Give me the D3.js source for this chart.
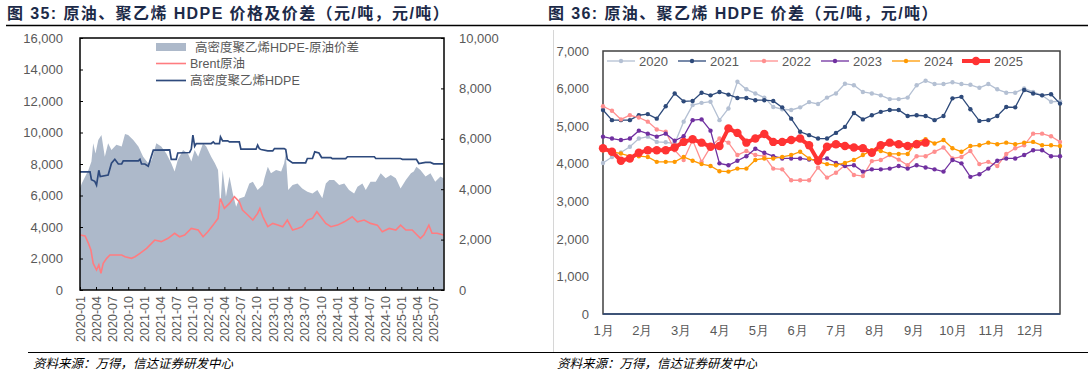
<!DOCTYPE html>
<html><head><meta charset="utf-8">
<script src="https://cdn.jsdelivr.net/npm/d3@7"></script>
<style>
body{margin:0;background:#fff;}
svg{display:block;font-family:"Liberation Sans",Arial,"Noto Sans CJK SC",sans-serif;}
</style></head>
<body><svg id="c" width="1088" height="378"></svg>
<script>
// ---------- Left chart data (元/吨) ----------
const spread = [["2020-01-01",4040],["2020-01-11",4230],["2020-02-18",4760],["2020-03-06",5100],["2020-03-16",5820],["2020-03-29",5420],["2020-04-14",5950],["2020-05-02",6150],["2020-05-21",5290],["2020-06-09",5820],["2020-06-28",5560],["2020-07-26",5760],["2020-08-25",5690],["2020-09-13",6190],["2020-10-01",6150],["2020-10-30",5950],["2020-11-28",5690],["2020-12-25",5290],["2021-01-23",5030],["2021-02-12",5160],["2021-03-10",5820],["2021-04-07",5690],["2021-05-06",5420],["2021-06-03",5030],["2021-06-22",4700],["2021-07-10",5160],["2021-08-09",5560],["2021-09-06",5420],["2021-09-25",5100],["2021-10-14",5560],["2021-11-03",5290],["2021-12-01",5820],["2021-12-19",5690],["2022-01-16",5290],["2022-02-06",5030],["2022-02-24",4760],["2022-03-09",3300],["2022-03-22",4760],["2022-04-10",3700],["2022-04-30",4500],["2022-05-19",3830],["2022-06-07",3300],["2022-06-25",3630],["2022-07-24",3700],["2022-08-21",4230],["2022-09-10",4300],["2022-10-07",3970],["2022-11-06",4170],["2022-11-15",4430],["2022-12-04",4890],["2022-12-22",4630],["2023-01-20",4760],["2023-02-18",4700],["2023-03-07",5030],["2023-03-16",5420],["2023-03-30",3970],["2023-04-24",4170],["2023-05-22",4230],["2023-06-18",4030],["2023-07-17",3900],["2023-08-15",3830],["2023-09-12",3970],["2023-10-10",3640],["2023-10-30",4230],["2023-11-19",4370],["2023-12-16",4370],["2024-01-14",4170],["2024-02-12",4230],["2024-03-10",3970],["2024-04-08",3830],["2024-04-27",4100],["2024-05-25",4230],["2024-06-13",3970],["2024-07-10",4300],["2024-08-09",4300],["2024-09-06",4630],["2024-10-04",4430],["2024-11-02",4560],["2024-12-01",4430],["2024-12-28",4030],["2025-01-27",4370],["2025-02-25",4630],["2025-03-13",4700],["2025-03-28",4890],["2025-04-20",4760],["2025-05-19",4500],["2025-06-16",4630],["2025-07-13",4300],["2025-08-12",4500],["2025-08-29",4430]];

const brent = [["2020-01-02",3490],["2020-01-30",3430],["2020-02-18",2960],["2020-03-03",2540],["2020-03-16",1690],["2020-04-04",1270],["2020-04-17",1590],["2020-04-29",1060],["2020-05-12",1690],["2020-06-01",2010],["2020-06-19",2220],["2020-08-25",2220],["2020-09-13",2110],["2020-10-20",2010],["2020-11-09",2110],["2020-12-07",2330],["2021-01-14",2640],["2021-03-01",3170],["2021-04-07",3070],["2021-05-16",3280],["2021-06-22",3600],["2021-07-20",3380],["2021-08-18",3490],["2021-09-25",3910],["2021-11-03",3810],["2021-12-01",3380],["2021-12-28",3700],["2022-01-27",4120],["2022-02-24",4550],["2022-03-09",5810],["2022-04-01",5180],["2022-04-30",5500],["2022-05-28",5920],["2022-06-25",5600],["2022-07-13",5070],["2022-08-12",4760],["2022-09-10",4440],["2022-10-07",4860],["2022-10-20",5180],["2022-11-06",4650],["2022-12-04",4020],["2023-01-01",4230],["2023-01-30",4120],["2023-02-27",4020],["2023-03-25",4440],["2023-04-24",3810],["2023-05-22",3910],["2023-06-18",4020],["2023-07-17",4440],["2023-08-15",4550],["2023-09-09",4970],["2023-10-01",4650],["2023-10-30",4230],["2023-11-28",4020],["2024-01-04",4120],["2024-02-12",4330],["2024-03-28",4650],["2024-04-27",4330],["2024-06-04",4440],["2024-07-10",4230],["2024-08-18",4120],["2024-09-15",3700],["2024-10-24",3910],["2024-12-01",3810],["2024-12-28",4120],["2025-01-27",3810],["2025-03-04",3810],["2025-04-01",3490],["2025-04-20",3280],["2025-05-09",3490],["2025-06-07",4120],["2025-06-25",3600],["2025-07-24",3600],["2025-08-29",3490]];

const hdpe = [["2020-01-01",7500],["2020-02-27",7500],["2020-03-06",7000],["2020-03-25",6900],["2020-04-04",6660],["2020-04-17",7600],["2020-04-25",7200],["2020-06-09",7300],["2020-06-28",8050],["2020-07-17",8300],["2020-08-06",8000],["2020-08-25",8000],["2020-09-03",8200],["2020-11-28",8200],["2020-12-07",8300],["2020-12-16",8000],["2021-01-04",8000],["2021-01-23",7860],["2021-02-02",8200],["2021-02-21",8880],["2021-05-25",8900],["2021-06-03",8290],["2021-07-01",8290],["2021-07-10",8700],["2021-09-15",8730],["2021-09-25",8950],["2021-10-04",9830],["2021-10-14",9130],["2021-10-23",9300],["2022-01-16",9300],["2022-01-28",9400],["2022-02-06",9300],["2022-03-04",9300],["2022-03-10",9720],["2022-03-22",9470],["2022-04-20",9470],["2022-04-30",9400],["2022-06-25",9400],["2022-07-04",8940],["2022-09-28",8940],["2022-10-07",9200],["2022-10-17",8970],["2022-10-27",8920],["2022-12-04",8830],["2023-01-01",8830],["2023-01-11",8980],["2023-03-07",8980],["2023-03-16",8920],["2023-03-25",8300],["2023-04-24",8070],["2023-07-07",8070],["2023-07-17",8350],["2023-08-15",8350],["2023-08-28",8770],["2023-09-21",8700],["2023-10-06",8410],["2023-11-28",8400],["2023-12-06",8340],["2024-02-20",8340],["2024-03-01",8460],["2024-08-01",8460],["2024-08-09",8350],["2024-12-28",8350],["2025-01-07",8300],["2025-03-28",8300],["2025-04-11",8030],["2025-05-19",8100],["2025-06-16",8100],["2025-07-04",8010],["2025-08-29",8010]];

const leftTicks = [0,2000,4000,6000,8000,10000,12000,14000,16000];
const rightTicks = [0,2000,4000,6000,8000,10000];
const quarterLabels = ["2020-01","2020-04","2020-07","2020-10","2021-01","2021-04","2021-07","2021-10","2022-01","2022-04","2022-07","2022-10","2023-01","2023-04","2023-07","2023-10","2024-01","2024-04","2024-07","2024-10","2025-01","2025-04","2025-07"];
const leftLegend = ["高密度聚乙烯HDPE-原油价差","Brent原油","高密度聚乙烯HDPE"];

// ---------- Right chart data (weekly, 元/吨) ----------
const monthLabels = ["1月","2月","3月","4月","5月","6月","7月","8月","9月","10月","11月","12月"];
const years = ["2020","2021","2022","2023","2024","2025"];
const s2020 = [4020,4180,4300,4450,4670,4720,4580,4570,4540,5120,5560,5620,5650,5160,5470,6180,5980,5870,5760,5510,5450,5430,5500,5640,5590,5760,5870,6130,6090,5910,5870,5820,5720,5720,5760,6090,6210,6120,6120,6170,6120,6100,6020,6120,5980,5890,5890,6000,5910,5820,5650,5660];
const s2021 = [5430,5160,5160,5160,5290,5320,5200,5530,5870,5660,5670,5890,5820,5910,5840,5750,5750,5690,5690,5670,5500,5200,4850,4760,4670,4670,4820,4980,5350,5180,5290,5380,5430,5430,5270,5290,5270,5160,5270,5740,5780,5450,5140,5160,5270,5510,5500,5960,5870,5820,5850,5600];
const s2022 = [5530,5410,5180,5290,5230,5120,4910,4850,4360,4100,4630,4050,4450,4670,4560,4230,4340,4230,4200,3870,3850,3560,3560,3560,3900,3630,3760,3960,3700,3670,4070,4100,4230,4110,3960,4200,4200,4320,4430,4140,4180,4340,3990,4050,3940,4260,4410,4490,4800,4800,4730,4580];
const s2023 = [4720,4670,4630,4670,4880,4800,4720,4800,4610,4730,5160,5180,4880,4010,3960,4080,4200,4400,4290,4200,4140,4140,4140,4110,4110,4140,4020,3940,3960,3790,3850,3850,3870,3940,3870,3960,3900,3850,3790,4100,4010,3650,3720,3870,4080,4140,4140,4230,4360,4360,4200,4200];
const s2024 = [4360,4320,4270,4200,4200,4180,4050,4050,4050,4180,4080,3990,3940,3800,3790,3870,3870,4100,4140,4140,4180,4230,4320,4140,4050,3990,3960,4020,4100,4230,4360,4340,4260,4260,4260,4580,4650,4540,4630,4410,4320,4470,4490,4560,4520,4560,4520,4560,4580,4490,4490,4470];
const s2025 = [4410,4320,4080,4140,4290,4360,4360,4360,4430,4580,4650,4560,4450,4470,4940,4820,4560,4670,4790,4580,4580,4630,4670,4490,4080,4450,4520,4470,4430,4410,4290,4490,4560,4520,4470,4520,4560];
const yearSeries = [s2020,s2021,s2022,s2023,s2024,s2025];
const rightYTicks = [0,1000,2000,3000,4000,5000,6000,7000];

// ---------- Styles ----------
const TXT = "#595959";
const C_AREA = "#adb9ca", C_BRENT = "#ff7c80", C_HDPE = "#2e4a7d";
const yearColors = ["#b4c0d3","#2e4a7a","#ff8f8f","#7030a0","#ff9900","#ff3333"];

const svg = d3.select("#c");
svg.append("rect").attr("width",1088).attr("height",378).attr("fill","#fff");
const parse = d3.timeParse("%Y-%m-%d");
const parseM = d3.timeParse("%Y-%m");

// Titles
function title(x, txt){
  svg.append("text").attr("x",x).attr("y",19).attr("fill","#1c2a48")
    .attr("font-weight","bold").attr("font-size","16px").attr("letter-spacing","1.4px").text(txt);
}
title(7,"图 35:  原油、聚乙烯 HDPE 价格及价差（元/吨，元/吨）");
title(548,"图 36:  原油、聚乙烯 HDPE 价差（元/吨，元/吨）");
svg.append("line").attr("x1",6).attr("x2",1088).attr("y1",25.5).attr("y2",25.5).attr("stroke","#000").attr("stroke-width",1.6);
svg.append("line").attr("x1",28).attr("x2",1088).attr("y1",352.5).attr("y2",352.5).attr("stroke","#000").attr("stroke-width",1);
svg.append("line").attr("x1",553.5).attr("x2",553.5).attr("y1",30).attr("y2",352).attr("stroke","#d6d6d6").attr("stroke-width",1);
svg.append("text").attr("x",33).attr("y",368).attr("font-size","12.5px").attr("font-style","italic").attr("fill","#000").text("资料来源：万得，信达证券研发中心");
svg.append("text").attr("x",557).attr("y",368).attr("font-size","12.5px").attr("font-style","italic").attr("fill","#000").text("资料来源：万得，信达证券研发中心");

// ---------- Left chart ----------
const L = {l:80, r:444, t:38, b:290};
const xL = d3.scaleTime().domain([new Date(2020,0,1), new Date(2025,8,1)]).range([L.l,L.r]);
const yL = d3.scaleLinear().domain([0,16000]).range([L.b,L.t]);
const yR = d3.scaleLinear().domain([0,10000]).range([L.b,L.t]);

const gL = svg.append("g");
gL.append("path").datum(spread)
  .attr("d", d3.area().x(d=>xL(parse(d[0]))).y0(yR(0)).y1(d=>yR(d[1])))
  .attr("fill",C_AREA);
gL.append("path").datum(brent)
  .attr("d", d3.line().x(d=>xL(parse(d[0]))).y(d=>yL(d[1])))
  .attr("fill","none").attr("stroke",C_BRENT).attr("stroke-width",1.6);
gL.append("path").datum(hdpe)
  .attr("d", d3.line().x(d=>xL(parse(d[0]))).y(d=>yL(d[1])))
  .attr("fill","none").attr("stroke",C_HDPE).attr("stroke-width",1.7);

function styleAxis(g){
  g.select(".domain").remove();
  g.selectAll(".tick line").attr("stroke","#000");
  g.selectAll("text").attr("fill",TXT).attr("font-size","13px").attr("font-family",'"Liberation Sans",Arial,sans-serif');
}
const fmt = d3.format(",");
gL.append("g").attr("transform",`translate(${L.l},0)`)
  .call(d3.axisLeft(yL).tickValues(leftTicks).tickSize(-3).tickPadding(17).tickFormat(fmt)).call(styleAxis);
gL.append("g").attr("transform",`translate(${L.r},0)`)
  .call(d3.axisRight(yR).tickValues(rightTicks).tickSize(-3).tickPadding(15).tickFormat(fmt)).call(styleAxis);
const xa = gL.append("g").attr("transform",`translate(0,${L.b})`)
  .call(d3.axisBottom(xL).tickValues(quarterLabels.map(parseM)).tickSize(-3).tickFormat(d3.timeFormat("%Y-%m"))).call(styleAxis);
xa.selectAll("text").attr("transform","rotate(-90)").attr("text-anchor","end")
  .attr("x",-6).attr("y",0).attr("dy","0.35em").attr("font-size","12.5px");
gL.append("rect").attr("x",L.l).attr("y",L.t).attr("width",L.r-L.l).attr("height",L.b-L.t)
  .attr("fill","none").attr("stroke","#000").attr("stroke-width",1.5);

// Left legend
const lg = gL.append("g").attr("font-size","12.5px").attr("fill",TXT);
lg.append("rect").attr("x",156).attr("y",43).attr("width",30).attr("height",8).attr("fill",C_AREA);
lg.append("text").attr("x",195).attr("y",51.5).attr("fill",TXT).text(leftLegend[0]);
lg.append("line").attr("x1",156).attr("x2",186).attr("y1",63.5).attr("y2",63.5).attr("stroke",C_BRENT).attr("stroke-width",1.6);
lg.append("text").attr("x",190).attr("y",68).attr("fill",TXT).text(leftLegend[1]);
lg.append("line").attr("x1",156).attr("x2",186).attr("y1",80.5).attr("y2",80.5).attr("stroke",C_HDPE).attr("stroke-width",1.7);
lg.append("text").attr("x",190).attr("y",85).attr("fill",TXT).text(leftLegend[2]);

// ---------- Right chart ----------
const R = {l:603, r:1060, t:51, b:314};
const xW = d3.scaleLinear().domain([0,51]).range([R.l,R.r]);
const yW = d3.scaleLinear().domain([0,7000]).range([R.b,R.t]);
const gR = svg.append("g");

gR.append("g").attr("transform",`translate(${R.l},0)`)
  .call(d3.axisLeft(yW).tickValues(rightYTicks).tickSize(0).tickPadding(14).tickFormat(fmt)).call(styleAxis);
gR.append("g").attr("transform",`translate(0,${R.b})`)
  .call(d3.axisBottom(xW).tickValues(monthLabels.map((m,i)=>i*52/12)).tickSize(0).tickPadding(12).tickFormat((d,i)=>monthLabels[i])).call(styleAxis);

gR.append("rect").attr("x",R.l).attr("y",R.t).attr("width",R.r-R.l).attr("height",R.b-R.t)
  .attr("fill","none").attr("stroke","#404040").attr("stroke-width",1.5);
gR.append("line").attr("x1",R.l).attr("x2",R.r).attr("y1",R.b).attr("y2",R.b).attr("stroke","#2e4a7a").attr("stroke-width",1.5);

yearSeries.forEach((vals,k)=>{
  const big = k===5;
  const g = gR.append("g");
  g.append("path").datum(vals)
    .attr("d", d3.line().x((d,i)=>xW(i)).y(d=>yW(d)))
    .attr("fill","none").attr("stroke",yearColors[k]).attr("stroke-width",big?4:1.3);
  g.selectAll("circle").data(vals).join("circle")
    .attr("cx",(d,i)=>xW(i)).attr("cy",d=>yW(d)).attr("r",big?4.2:2.2).attr("fill",yearColors[k]);
});

// Right legend
const legX = [607,678,750,821,892,962];
years.forEach((y,k)=>{
  const big = k===5;
  const g = gR.append("g");
  g.append("line").attr("x1",legX[k]).attr("x2",legX[k]+28).attr("y1",61).attr("y2",61)
    .attr("stroke",yearColors[k]).attr("stroke-width",big?4:1.3);
  g.append("circle").attr("cx",legX[k]+14).attr("cy",61).attr("r",big?4.2:2.2).attr("fill",yearColors[k]);
  g.append("text").attr("x",legX[k]+32).attr("y",65.5).attr("font-size","13px").attr("fill",TXT).text(y);
});
</script></body></html>
